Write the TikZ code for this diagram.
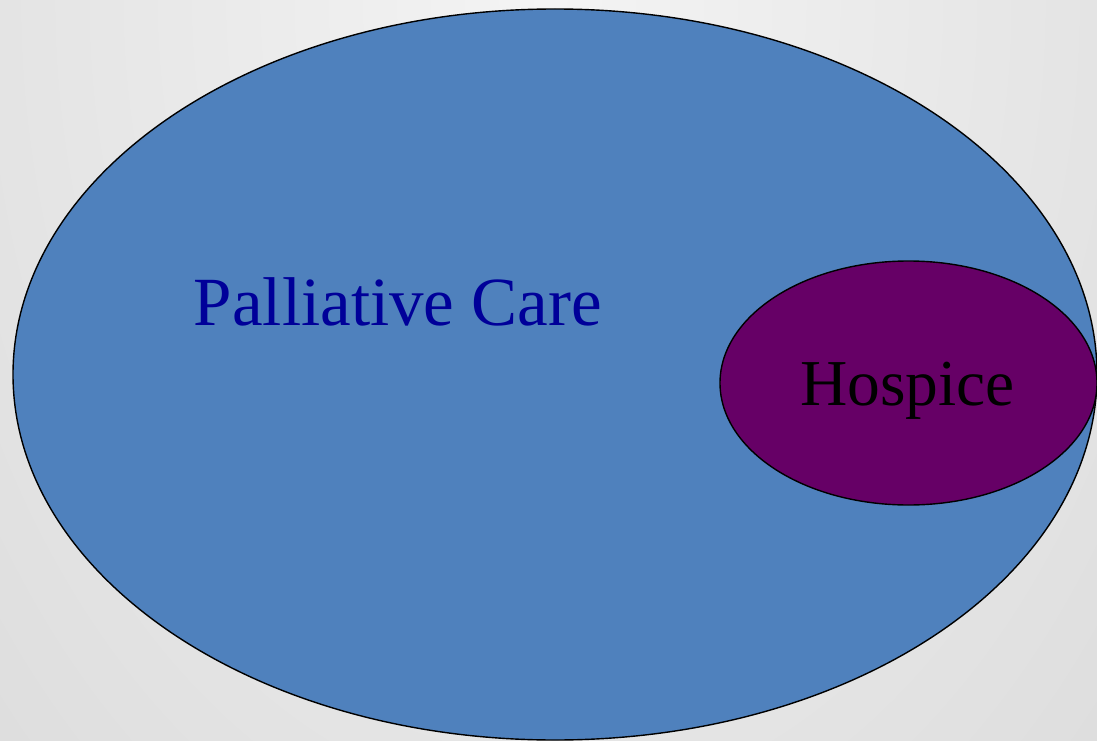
\documentclass[tikz,border=0pt]{standalone}
\usepackage{fontspec}
\setmainfont{Liberation Serif}
\usetikzlibrary{shapes.geometric}
\definecolor{pcblue}{HTML}{4F81BD}
\definecolor{hospurple}{HTML}{660066}
\definecolor{pctext}{HTML}{000099}
\definecolor{bgin}{HTML}{F4F4F4}
\definecolor{bgout}{HTML}{CBCBCB}
\tikzset{
  region/.style={ellipse, draw=black, line width=1.4pt, inner sep=0pt, outer sep=0pt},
  lbl/.style={anchor=base, inner sep=0pt}
}
\begin{document}
\begin{tikzpicture}[x=1pt,y=-1pt]
\useasboundingbox (0,0) rectangle (1097,741);
\begin{scope}
  \clip (0,0) rectangle (1097,741);
  \shade[inner color=bgin, outer color=bgout] (550,0) ellipse (1400 and 2000);
\end{scope}
\node[region, fill=pcblue, minimum width=1084pt, minimum height=731pt] (pc) at (555,374.5) {};
\node[region, fill=hospurple, minimum width=377pt, minimum height=244pt] (hosp) at (908.5,383) {};
\node[lbl, text=pctext, font=\fontsize{69}{80}\selectfont] (pclabel) at (398,325) {Palliative Care};
\node[lbl, text=black, font=\fontsize{65.5}{76}\selectfont] (hosplabel) at (907.5,405.5) {Hospice};
\end{tikzpicture}
\end{document}
